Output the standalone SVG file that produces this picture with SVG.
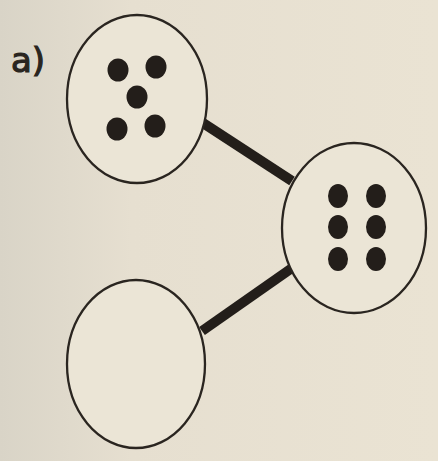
<svg xmlns="http://www.w3.org/2000/svg" width="438" height="461" viewBox="0 0 438 461">
<defs>
<linearGradient id="bg" x1="0" y1="0" x2="1" y2="0">
<stop offset="0" stop-color="#d9d4c7"/>
<stop offset="0.3" stop-color="#e6dfd0"/>
<stop offset="1" stop-color="#eae3d3"/>
</linearGradient>
<style>
.node{fill:#ebe5d6;stroke:#2a2520;stroke-width:2.3}
.dot{fill:#231e1a}
.conn{stroke:#231e1a;stroke-width:10;stroke-linecap:butt}
.lbl{font-family:"DejaVu Sans",sans-serif;font-size:34px;fill:#2a2520;stroke:#2a2520;stroke-width:1.2}
</style>
</defs>
<rect width="438" height="461" fill="url(#bg)"/>
<text class="lbl" x="11" y="72">a)</text>
<g id="connectors">
<line class="conn" x1="203" y1="123" x2="292" y2="181"/>
<line class="conn" x1="202" y1="331" x2="292" y2="268"/>
</g>
<g id="node-part-5">
<ellipse class="node" cx="137" cy="99" rx="70" ry="84"/>
<ellipse class="dot" cx="118" cy="70" rx="10.5" ry="11.5"/>
<ellipse class="dot" cx="156" cy="67" rx="10.5" ry="11.5"/>
<ellipse class="dot" cx="137" cy="97" rx="10.5" ry="11.5"/>
<ellipse class="dot" cx="117" cy="129" rx="10.5" ry="11.5"/>
<ellipse class="dot" cx="155" cy="126" rx="10.5" ry="11.5"/>
</g>
<g id="node-whole-6">
<ellipse class="node" cx="354" cy="228" rx="72" ry="85"/>
<ellipse class="dot" cx="338" cy="196" rx="10" ry="12"/>
<ellipse class="dot" cx="376" cy="196" rx="10" ry="12"/>
<ellipse class="dot" cx="338" cy="227" rx="10" ry="12"/>
<ellipse class="dot" cx="376" cy="227" rx="10" ry="12"/>
<ellipse class="dot" cx="338" cy="259" rx="10" ry="12"/>
<ellipse class="dot" cx="376" cy="259" rx="10" ry="12"/>
</g>
<g id="node-part-empty">
<ellipse class="node" cx="136" cy="364" rx="69" ry="84"/>
</g>
</svg>
